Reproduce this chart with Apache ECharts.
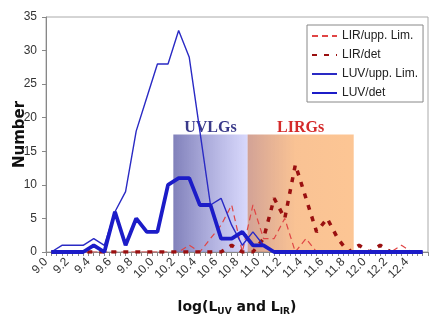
<!DOCTYPE html>
<html>
<head>
<meta charset="utf-8">
<script src="https://cdn.jsdelivr.net/npm/echarts@6/dist/echarts.min.js"></script>
<style>
  html, body { margin: 0; padding: 0; background: #fff; }
  #main { width: 436px; height: 327px; }
</style>
</head>
<body>
<div id="main"></div>
<script>
// bin centres, log(L)
const binCenters = [9.05, 9.15, 9.25, 9.35, 9.45, 9.55, 9.65, 9.75, 9.85, 9.95,
  10.05, 10.15, 10.25, 10.35, 10.45, 10.55, 10.65, 10.75, 10.85, 10.95,
  11.05, 11.15, 11.25, 11.35, 11.45, 11.55, 11.65, 11.75, 11.85, 11.95,
  12.05, 12.15, 12.25, 12.35, 12.45, 12.55]
const xTickLabels = ['9.0', '9.2', '9.4', '9.6', '9.8', '10.0', '10.2', '10.4', '10.6',
  '10.8', '11.0', '11.2', '11.4', '11.6', '11.8', '12.0', '12.2', '12.4']

const lirUpp = [0, 0, 0, 0, 0, 0, 0, 0, 0, 0, 0, 0, 0, 1, 0, 2, 4, 7, 0, 7,
  2, 2, 5, 0, 2, 0, 0, 0, 0, 0, 0, 0, 0, 1, 0, 0]
const lirDet = [0, 0, 0, 0, 0, 0, 0, 0, 0, 0, 0, 0, 0, 0, 0, 0, 0, 1, 0, 0,
  2, 8, 5, 13, 8, 3, 5, 2, 0, 1, 0, 1, 0, 0, 0, 0]
const luvUpp = [0, 1, 1, 1, 2, 1, 6, 9, 18, 23, 28, 28, 33, 29, 18, 7, 8, 4, 1, 3,
  1, 0, 0, 0, 0, 0, 0, 0, 0, 0, 0, 0, 0, 0, 0, 0]
const luvDet = [0, 0, 0, 0, 1, 0, 6, 1, 5, 3, 3, 10, 11, 11, 7, 7, 2, 2, 3, 1,
  1, 0, 0, 0, 0, 0, 0, 0, 0, 0, 0, 0, 0, 0, 0, 0]

// shaded ranges [from, to, top]
const uvlgRange = [10.2, 10.9, 17.5]
const lirgRange = [10.9, 11.9, 17.5]

function pairs(vals) {
  return vals.map((v, i) => [binCenters[i], v])
}

const chart = echarts.init(document.getElementById('main'))

const option = {
  animation: false,
  grid: {
    left: 46, right: 8, top: 17, bottom: 75,
    show: true, borderColor: '#aaa', borderWidth: 1,
    outerBoundsMode: 'none'
  },
  legend: {
    orient: 'vertical',
    left: 307, top: 25,
    padding: [5, 5, 3, 4],
    itemGap: 7,
    itemWidth: 25, itemHeight: 12,
    backgroundColor: '#fff',
    borderColor: '#888', borderWidth: 1,
    itemStyle: { opacity: 0 },
    textStyle: { fontFamily: 'Liberation Sans', fontSize: 12, color: '#222' },
    data: ['LIR/upp. Lim.', 'LIR/det', 'LUV/upp. Lim.', 'LUV/det']
  },
  xAxis: {
    type: 'value',
    min: 9.0, max: 12.6, interval: 0.05,
    splitLine: { show: false },
    axisLine: { lineStyle: { color: '#888' } },
    axisTick: { length: 4, lineStyle: { color: '#888' } },
    axisLabel: {
      rotate: 45, margin: 8,
      fontFamily: 'Liberation Sans', fontSize: 12, color: '#333',
      formatter: function (v) {
        const s = v.toFixed(1)
        return (Math.abs(v - parseFloat(s)) < 1e-6 && xTickLabels.includes(s)) ? s : ''
      }
    },
    name: '{a|log(L}{s|UV}{a| and L}{s|IR}{a|)}',
    nameLocation: 'middle',
    nameGap: 46,
    nameMoveOverlap: false,
    nameTextStyle: {
      rich: {
        a: { fontFamily: 'DejaVu Sans', fontWeight: 'bold', fontSize: 14, lineHeight: 18, color: '#111' },
        s: { fontFamily: 'DejaVu Sans', fontWeight: 'bold', fontSize: 9, lineHeight: 8, verticalAlign: 'bottom', color: '#111' }
      }
    }
  },
  yAxis: {
    type: 'value',
    min: 0, max: 35, interval: 5,
    splitLine: { show: false },
    axisLine: { show: true, lineStyle: { color: '#888' } },
    axisTick: { show: true, length: 4, lineStyle: { color: '#888' } },
    axisLabel: { margin: 9, fontFamily: 'Liberation Sans', fontSize: 12, color: '#333' },
    name: 'Number',
    nameLocation: 'middle',
    nameGap: 18,
    nameMoveOverlap: false,
    nameTextStyle: { fontFamily: 'DejaVu Sans', fontWeight: 'bold', fontSize: 15, color: '#111' }
  },
  series: [
    {
      name: 'LIR/upp. Lim.',
      type: 'line',
      symbol: 'none',
      color: '#e04545',
      lineStyle: { width: 1.2, type: [6, 4], color: '#e04545' },
      data: pairs(lirUpp)
    },
    {
      name: 'LIR/det',
      type: 'line',
      symbol: 'none',
      color: '#9a1010',
      lineStyle: { width: 3.5, type: [5, 7], color: '#9a1010' },
      data: pairs(lirDet)
    },
    {
      name: 'LUV/upp. Lim.',
      type: 'line',
      symbol: 'none',
      color: '#2a2ac4',
      lineStyle: { width: 1.4, color: '#2a2ac4' },
      data: pairs(luvUpp)
    },
    {
      name: 'LUV/det',
      type: 'line',
      symbol: 'none',
      color: '#1c1cc8',
      lineStyle: { width: 3.8, color: '#1c1cc8' },
      data: pairs(luvDet)
    },
    {
      // shaded luminosity ranges, drawn over the lines
      name: 'bands',
      type: 'line',
      data: [],
      z: 5,
      silent: true,
      markArea: {
        silent: true,
        data: [
          [
            {
              name: 'UVLGs', xAxis: uvlgRange[0], yAxis: 0,
              itemStyle: {
                color: new echarts.graphic.LinearGradient(0, 0, 1, 0, [
                  { offset: 0, color: 'rgba(80,80,160,0.72)' },
                  { offset: 1, color: 'rgba(190,190,250,0.6)' }
                ])
              },
              label: {
                position: 'top', distance: -1,
                fontFamily: 'Liberation Serif', fontWeight: 'bold', fontSize: 16, color: '#3a3a8a'
              }
            },
            { xAxis: uvlgRange[1], yAxis: uvlgRange[2] }
          ],
          [
            {
              name: 'LIRGs', xAxis: lirgRange[0], yAxis: 0,
              itemStyle: {
                color: new echarts.graphic.LinearGradient(0, 0, 1, 0, [
                  { offset: 0, color: 'rgba(180,100,80,0.6)' },
                  { offset: 0.45, color: 'rgba(245,145,60,0.55)' },
                  { offset: 1, color: 'rgba(250,150,60,0.55)' }
                ])
              },
              label: {
                position: 'top', distance: -1,
                fontFamily: 'Liberation Serif', fontWeight: 'bold', fontSize: 16, color: '#d42a2a'
              }
            },
            { xAxis: lirgRange[1], yAxis: lirgRange[2] }
          ]
        ]
      }
    }
  ]
}

chart.setOption(option)
</script>
</body>
</html>
